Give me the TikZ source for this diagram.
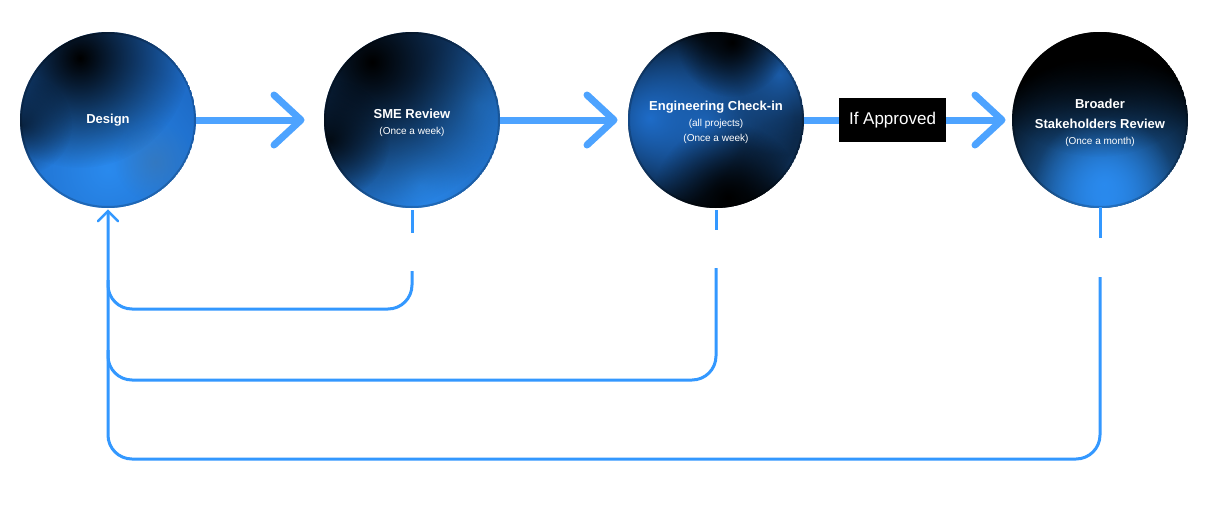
\documentclass[tikz,border=0pt]{standalone}
\usepackage{fontspec}
\setmainfont{Liberation Sans}
\usetikzlibrary{fadings,calc}
\definecolor{flowblue}{HTML}{4DA3FF}
\definecolor{fbblue}{HTML}{3398FF}
\definecolor{deepblue}{HTML}{1E6CC8}
\definecolor{brightblue}{HTML}{2A8AEE}
\definecolor{midblue}{HTML}{1B5CA8}
\definecolor{nightblue}{HTML}{050E18}
\definecolor{greyblue}{HTML}{3C76B0}
\tikzfading[name=blobfade, inner color=transparent!0, outer color=transparent!100]
\newcommand\myblob[5][1]{\fill[#5, fill opacity=#1, path fading=blobfade] (#2,#3) circle (#4pt);}
\newcommand\ttlfont{\fontsize{13}{15}\selectfont\bfseries}
\newcommand\subfnt{\fontsize{10}{15}\selectfont}
\newcommand\myrim[2]{%
  \draw[black, opacity=.18, line width=2pt] (#1,#2) circle (87pt);}
\begin{document}
\begin{tikzpicture}[x=1pt,y=-1pt,
  stage/.style={circle, minimum size=176pt, inner sep=0pt, text=white, align=center, font=\fontsize{10}{15}\selectfont},
  flow/.style={line width=7pt, flowblue},
  flowhead/.style={line width=7pt, flowblue, line cap=round, line join=round},
  fb/.style={line width=3pt, fbblue},
  fbhead/.style={line width=2.5pt, fbblue, line cap=round, line join=miter},
  gate/.style={fill=black, text=white, minimum width=107pt, minimum height=44pt, inner sep=0pt, font=\fontsize{17}{20}\selectfont}]
\useasboundingbox (0,0) rectangle (1224,504);
\fill[white] (0,0) rectangle (1224,504);

% ---- Design circle shading
\begin{scope}
  \clip (108,120) circle (88pt);
  \fill[deepblue] (108,120) circle (88pt);
  \myblob{108}{170}{110}{brightblue}
  \myblob[.6]{155}{162}{40}{greyblue}
  \myblob{80}{58}{110}{black}
  \myblob[.6]{22}{125}{50}{black}
  \myrim{108}{120}
\end{scope}
% ---- SME circle shading
\begin{scope}
  \clip (412,120) circle (88pt);
  \fill[midblue] (412,120) circle (88pt);
  \myblob{420}{185}{110}{brightblue}
  \myblob[.8]{478}{105}{70}{brightblue}
  \myblob{372}{62}{150}{black}
  \myblob[.8]{330}{140}{60}{black}
  \myrim{412}{120}
\end{scope}
% ---- Engineering circle shading
\begin{scope}
  \clip (716,120) circle (88pt);
  \fill[nightblue] (716,120) circle (88pt);
  \myblob{705}{122}{90}{midblue}
  \myblob{650}{118}{95}{deepblue}
  \myblob{780}{75}{80}{midblue}
  \myblob[.5]{795}{170}{55}{midblue}
  \myblob{732}{42}{55}{black}
  \myblob{728}{198}{75}{black}
  \myrim{716}{120}
\end{scope}
% ---- Broader circle shading
\begin{scope}
  \clip (1100,120) circle (88pt);
  \fill[black] (1100,120) circle (88pt);
  \myblob{1105}{200}{145}{brightblue}
  \myblob{1104}{185}{70}{brightblue}
  \myblob{1098}{32}{125}{black}
  \myrim{1100}{120}
\end{scope}

% ---- stage nodes
\node[stage] (design) at (108,120) {\ttlfont Design};
\node[stage] (sme) at (412,122.5) {\ttlfont SME Review\\[1pt]\subfnt (Once a week)};
\node[stage] (eng) at (716,122) {\ttlfont Engineering Check-in\\[1pt]\subfnt (all projects)\\\subfnt (Once a week)};
\node[stage] (broad) at (1100,123) {\ttlfont Broader\\[5pt]\ttlfont Stakeholders Review\\[1pt]\subfnt (Once a month)};
\node[gate] (ifa) at (892.5,120) {If Approved};

% ---- forward arrows
\coordinate (t1) at (301,120);
\coordinate (t2) at (614,120);
\coordinate (t3) at (1002,120);
\draw[flow] (design.east) -- (t1);
\draw[flowhead] ($(t1)+(-27,-25)$) -- (t1) -- ($(t1)+(-27,25)$);
\draw[flow] (sme.east |- t2) -- (t2);
\draw[flowhead] ($(t2)+(-27,-25)$) -- (t2) -- ($(t2)+(-27,25)$);
\draw[flow] (eng.east |- ifa.west) -- (ifa.west);
\draw[flow] (ifa.east) -- (t3);
\draw[flowhead] ($(t3)+(-27,-25)$) -- (t3) -- ($(t3)+(-27,25)$);

% ---- feedback loops
\coordinate (s1) at (412,210);
\coordinate (e1) at (412,233);
\coordinate (s1b) at (412,271);
\coordinate (s2) at (716,210);
\coordinate (e2) at (716,230);
\coordinate (s2b) at (716,268);
\coordinate (s3) at (1100,207);
\coordinate (e3) at (1100,238);
\coordinate (s3b) at (1100,277);
\coordinate (tip) at ($(design.south)+(0,3)$);

\draw[fb] (s1) -- (e1);
\draw[fb] (s2) -- (e2);
\draw[fb] (s3) -- (e3);
\draw[fb, rounded corners=24pt] (s1b) |- (108,309) -- (108,280);
\draw[fb, rounded corners=24pt] (s2b) |- (108,380) -- (108,350);
\draw[fb, rounded corners=24pt] (s3b) |- (108,459) -- (tip);
\draw[fbhead] ($(tip)+(-10,10)$) -- (tip) -- ($(tip)+(10,10)$);
\end{tikzpicture}
\end{document}
